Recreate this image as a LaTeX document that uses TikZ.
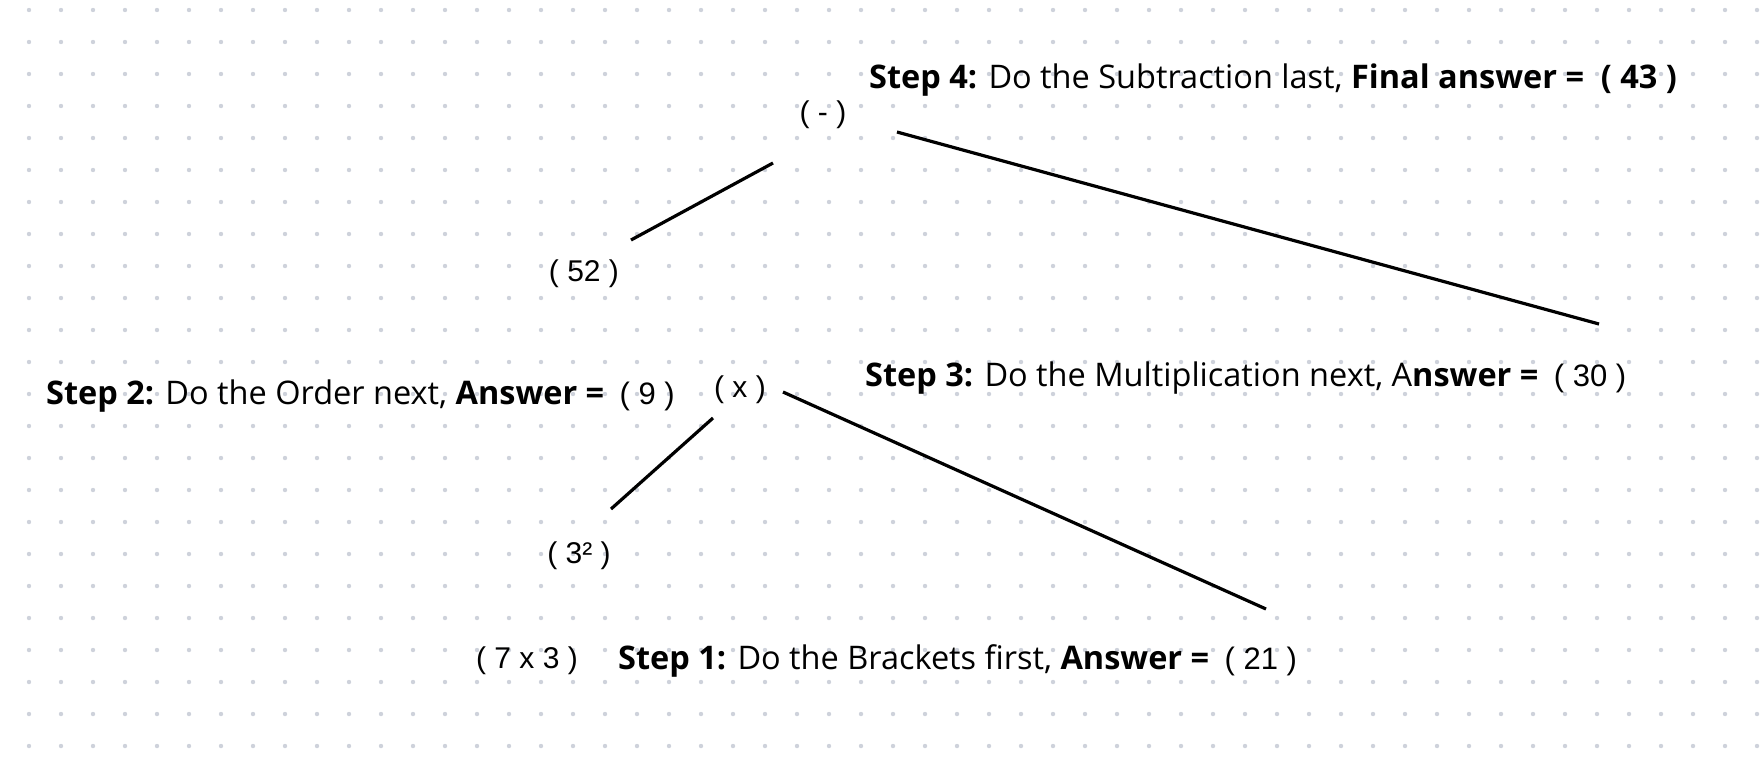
\documentclass[tikz,border=0pt]{standalone}
\usepackage{fontspec}
\setmainfont{Open Sans}
\newfontfamily\numfont{Liberation Sans}
\usetikzlibrary{positioning,calc}

\definecolor{dotgrey}{RGB}{206,210,219}

\begin{document}
\begin{tikzpicture}[x=1pt, y=-1pt]

        % sizes in pixels of the 1760 x 756 sheet
        \tikzset{
            term/.style={font=\numfont\fontsize{30}{34}\selectfont,
                inner sep=0pt, anchor=base},
            stepnote/.style={font=\fontsize{32.5}{38}\selectfont,
                inner sep=0pt, anchor=base west},
            answer/.style={font=\numfont\fontsize{31}{35}\selectfont,
                inner sep=0pt, anchor=base west}
        }

        \fill[white] (0,0) rectangle (1760,756);
        \useasboundingbox (0,0) rectangle (1760,756);

        % dotted paper
        \foreach \i in {0,...,54}
            \foreach \j in {0,...,23}
                \fill[dotgrey] (29+32*\i, 10+32*\j) circle (2.2pt);

        % the tree of terms
        \begin{scope}
            \node[term] (Sub) at (823, 122) {( - )};
            \node[term] (N52) at (584, 281) {( 52 )};
            \node[term] (Mul) at (740, 397) {( x )};
            \node[term] (Sq)  at (579, 563) {( 3² )};
            \node[term] (Br)  at (527, 668) {( 7 x 3 )};
        \end{scope}

        % the steps
        \begin{scope}
            \node[stepnote] (St4) at (869, 88)
            {\textbf{Step 4:} Do the Subtraction last,
             \textbf{Final answer =\ \ ( 43 )}};
            \node[stepnote] (St3) at (865, 386)
            {\textbf{Step 3:} Do the Multiplication next,
             A\textbf{nswer =}};
            \node[answer, right=15pt of St3.base east, anchor=base west]
            (A30) {( 30 )};
            \node[stepnote] (St2) at (46, 404)
            {\textbf{Step 2:} Do the Order next, \textbf{Answer =}};
            \node[answer, right=15pt of St2.base east, anchor=base west]
            (A9) {( 9 )};
            \node[stepnote] (St1) at (618, 669)
            {\textbf{Step 1:} Do the Brackets first, \textbf{Answer =}};
            \node[answer, right=15pt of St1.base east, anchor=base west]
            (A21) {( 21 )};
        \end{scope}

        % ends of the branches
        \coordinate (Sub-l) at (773, 163);
        \coordinate (N52-r) at (631, 240);
        \coordinate (Sub-r) at (897, 132);
        \coordinate (A30-t) at (1599, 324);
        \coordinate (Mul-l) at (713, 418);
        \coordinate (Sq-r)  at (611, 509);
        \coordinate (Mul-r) at (783, 392);
        \coordinate (A21-t) at (1266, 609);

        \begin{scope}[line width=3.2pt]
            \draw (Sub-l) -- (N52-r);
            \draw (Sub-r) -- (A30-t);
            \draw (Mul-l) -- (Sq-r);
            \draw (Mul-r) -- (A21-t);
        \end{scope}

        \end{tikzpicture}
\end{document}
